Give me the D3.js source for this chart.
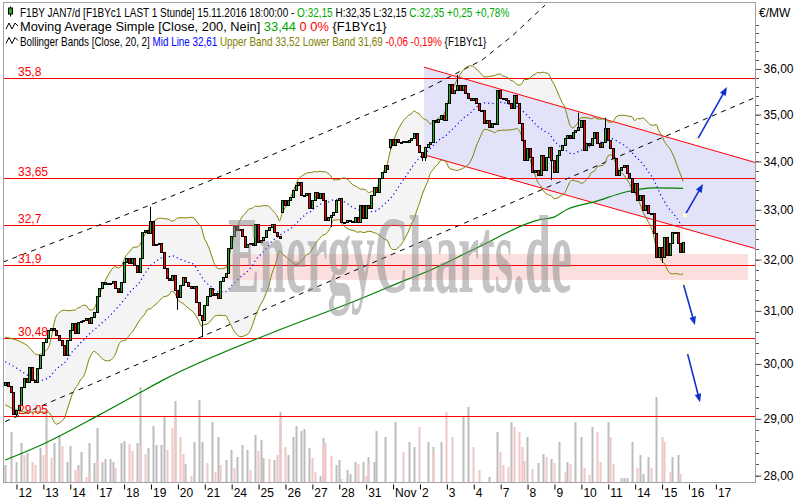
<!DOCTYPE html>
<html><head><meta charset="utf-8">
<script src="https://cdn.jsdelivr.net/npm/d3@7"></script>
<style>body{margin:0;background:#fff}svg{display:block}text{font-family:"Liberation Sans",Arial,sans-serif}</style>
</head><body><svg id="c" width="800" height="500"></svg>
<script>
// ---------- DATA ----------
const closes = [
29.67,29.60,29.49,29.09,29.16,29.25,29.58,29.74,29.67,29.94,
29.71,29.67,29.93,30.17,30.41,30.49,30.64,30.68,30.64,30.54,
30.45,30.35,30.17,30.45,30.64,30.77,30.58,30.79,30.81,30.83,
30.87,30.77,30.88,30.98,31.29,31.44,31.56,31.52,31.54,31.54,
31.58,31.44,31.37,31.56,31.95,32.03,31.93,32.03,31.89,31.76,
32.03,32.55,32.59,32.53,32.77,32.29,32.31,32.33,32.15,31.83,
31.64,31.60,31.70,31.40,31.27,31.50,31.66,31.56,31.48,31.44,
31.48,31.17,30.92,30.83,31.11,31.29,31.44,31.31,31.35,31.25,
31.58,31.66,31.74,32.23,32.47,32.67,32.59,32.61,32.47,32.25,
32.31,32.33,32.29,32.71,32.35,32.39,32.45,32.59,32.65,32.71,
32.55,32.47,32.43,33.20,33.10,33.20,33.26,33.41,33.51,33.57,
33.30,33.30,33.34,33.04,33.20,33.37,33.24,33.34,33.20,32.79,
32.85,32.89,32.95,33.20,33.24,32.75,32.75,32.79,32.77,32.75,
32.85,32.75,33.10,32.83,33.10,33.04,33.30,33.47,33.37,33.65,
33.78,33.92,33.84,34.47,34.35,34.47,34.41,34.41,34.43,34.41,
34.45,34.50,34.60,34.35,34.20,34.09,34.31,34.37,34.41,34.88,
34.84,34.91,34.99,34.88,35.25,35.67,35.47,35.54,35.65,35.54,
35.65,35.47,35.36,35.32,35.36,35.25,35.10,35.10,34.82,34.88,
34.73,34.82,34.80,35.54,35.36,35.36,35.32,35.25,35.14,35.43,
35.25,34.82,34.45,34.03,34.28,34.09,33.78,33.82,33.72,34.13,
33.82,34.09,34.31,34.03,33.78,34.13,34.24,34.35,34.50,34.56,
34.50,34.62,34.67,34.73,34.88,34.24,34.39,34.35,34.50,34.62,
34.39,34.31,34.41,34.71,34.45,34.28,34.07,33.72,33.82,33.88,
33.92,33.76,33.65,33.37,33.55,33.20,33.30,33.00,33.10,32.93,
32.93,32.53,32.05,32.25,32.05,32.45,32.09,32.33,32.55,32.55,
32.33,32.15,32.35];
const firstOpen = 29.62;
const gapOpens = [[103,32.95],[143,34.31]];
const wicks = [[4,null,29.04],[54,33.06,null],[64,null,31.02],[73,null,30.50],[121,null,32.65],[143,null,34.26],
  [155,null,34.01],[156,null,34.01],[168,35.87,null],[203,null,33.61],[213,35.04,null],[223,34.93,null],[244,null,31.93]];

const volGray = [[0,17],[2,50],[4,20],[6,39],[8,29],[13,34],[15,72],[18,39],[20,47],[23,20],[24,36],[27,17],[28,30],[31,39],[33,19],[34,54],[36,20],[37,23],[39,23],[40,20],[43,39],[44,41],[49,39],[50,95],[53,34],[55,56],[56,37],[58,37],[59,65],[63,81],[67,18],[70,40],[72,82],[73,40],[77,60],[79,45],[82,22],[84,32],[86,25],[88,37],[90,32],[93,47],[95,42],[96,24],[100,22],[102,70],[105,27],[107,45],[108,56],[110,51],[111,53],[113,34],[117,6],[118,44],[123,17],[124,22],[127,12],[128,8],[130,20],[133,20],[135,25],[137,20],[138,51],
  [141,45],[145,60],[150,40],[152,35],[157,40],[159,35],[162,40],[170,65],[172,75],[180,5],[183,50],[188,60],[194,45],[198,19],[200,28],[203,23],[206,40],[209,20],[212,60],[214,45],[218,55],[224,60],[229,4],[230,4],[231,4],[233,40],[236,27],[237,8],[239,25],[242,85],[248,25],[250,27]];
const volPink = [[2,14],[7,27],[10,20],[11,17],[14,27],[15,35],[17,24],[21,36],[26,12],[27,12],[30,5],[31,8],[34,22],[41,14],[46,38],[47,31],[50,37],[52,28],[60,32],[62,54],[63,67],[65,45],[66,28],[69,6],[75,19],[78,10],[80,17],[85,14],[91,12],[94,31],[98,23],[101,27],[102,64],[104,35],[114,24],[115,10],[118,39],[119,39],[121,26],[125,3],[131,18],[134,6],[135,17],
  [148,30],[154,55],[159,30],[164,70],[166,45],[174,35],[176,12],[184,30],[185,17],[187,15],[189,55],[191,50],[192,35],[193,21],[196,13],[201,25],[204,19],[208,10],[210,18],[215,14],[217,7],[220,50],[221,20],[225,45],[226,18],[235,14],[240,14],[244,45],[245,40],[247,10],[251,8]];

const sma200 = [[0,28.27],[15,28.57],[35,29.07],[50,29.47],[59,29.71],[102,30.64],[131,31.21],[149,31.60],[158,31.79],[176,32.25],[198,32.79],[204,32.85],[209,33.01],[219,33.16],[231,33.37],[241,33.45],[252,33.44]];
const bbHeadUpper = [[0,30.50],[4,30.45],[8,30.35],[12,30.17],[16,30.30]];
const bbHeadMid   = [[0,30.04],[4,29.93],[8,29.80],[12,29.69],[16,29.74]];
const bbHeadLower = [[0,29.25],[4,29.16],[8,29.12],[12,29.12],[16,29.12]];

const dayLabels = ["12","13","14","17","18","19","20","21","24","25","26","27","28","31","Nov","2","3","4","7","8","9","10","11","14","15","16","17"];
const levels = [35.8,33.65,32.7,31.9,30.48,29.05];
const levelLabels = ["35,8","33,65","32,7","31,9","30,48","29,05"];
const priceTicks = [28,29,30,31,32,33,34,35,36];

const dashLower = [[0,28.95],[278.7,35.37]];
const dashUpper = [[-0.8,31.95],[42.7,32.85],[88.4,33.88],[154.2,35.49],[177.3,36.20],[188.8,36.76],[200.7,37.45]];
const chanTop = [[155.7,36.04],[278.7,33.98]];
const chanBot = [[155.7,34.14],[278.7,32.22]];
const pinkZone = [[82.5,32.11],[276.1,31.60]];
const arrows = [[257.2,34.45,268.3,35.60],[252.7,32.89,259.4,33.53],[252.0,31.54,256.4,30.73],[253.5,30.22,258.3,29.30]];

const header = [
  [["F1BY JAN7/d [F1BYc1 LAST 1 Stunde] 15.11.2016 18:00:00 - ","#000"],["O:32,15","#00a800"],[" H:32,35 L:32,15 ","#000"],["C:32,35 +0,25 +0,78%","#00a800"]],
  [["Moving Average Simple [Close, 200, Nein] ","#000"],["33,44","#00a800"],[" 0 0%","#ff0000"],[" {F1BYc1}","#000"]],
  [["Bollinger Bands [Close, 20, 2] ","#000"],["Mid Line 32,61","#0000ff"],[" Upper Band 33,52 Lower Band 31,69","#808000"],[" -0,06 -0,19%","#ff0000"],[" {F1BYc1}","#000"]]
];
const headerWidths = [490, 367, 467];

// ---------- CHART ----------
const svg = d3.select("#c");
const P = {l:3, t:2, r:755, b:482};
const x = d3.scaleLinear().domain([0,252]).range([5.2,683.1]);
const y = d3.scaleLog().domain([29.05,35.8]).range([416,78]);
const yv = d3.scaleLinear().domain([0,100]).range([482,382]);

svg.append("defs").append("clipPath").attr("id","pc").append("rect")
  .attr("x",P.l).attr("y",P.t).attr("width",P.r-P.l).attr("height",P.b-P.t);
const g = svg.append("g").attr("clip-path","url(#pc)");

// bollinger
const bb = [];
for (let j=19;j<closes.length;j++){
  const w = closes.slice(j-19,j+1), m = d3.mean(w), sd = Math.sqrt(d3.mean(w,v=>(v-m)*(v-m)));
  bb.push({j, m, u:m+2*sd, l:m-2*sd});
}
const head = bbHeadUpper.map((d,i)=>({j:d[0], u:d[1], m:bbHeadMid[i][1], l:bbHeadLower[i][1]}));
const band = head.concat(bb);

g.append("path").datum(band)
  .attr("d", d3.area().x(d=>x(d.j)).y0(d=>y(d.l)).y1(d=>y(d.u)).curve(d3.curveMonotoneX))
  .attr("fill","#f4f4f4");

// channel fill
const poly = [chanTop[0],chanTop[1],chanBot[1],chanBot[0]].map(d=>[x(d[0]),y(d[1])]);
g.append("polygon").attr("points",poly.map(p=>p.join(",")).join(" ")).attr("fill","#e2e2f8");

// pink zone
g.append("rect").attr("x",x(pinkZone[0][0])).attr("y",y(pinkZone[0][1]))
  .attr("width",x(pinkZone[1][0])-x(pinkZone[0][0])).attr("height",y(pinkZone[1][1])-y(pinkZone[0][1]))
  .attr("fill","#fbdede");

// watermark (scaled with a transform so its box is its drawn size)
const wmG = svg.append("g");
const wm = wmG.append("text").attr("x",0).attr("y",0)
  .style("font-family","'Liberation Serif',serif").style("font-weight","bold").style("font-size","80px")
  .attr("fill","#8a8a8a").attr("opacity",0.5).text("EnergyCharts.de");
const wmW = wm.node().getComputedTextLength();
wmG.attr("transform",`translate(228,292) scale(${344/wmW},1.38)`);

// volume
g.selectAll(".vg").data(volGray).join("rect").attr("x",d=>Math.round(x(d[0]))-0.5).attr("width",2)
  .attr("y",d=>yv(d[1])).attr("height",d=>yv(0)-yv(d[1])).attr("fill","#bdbdbd");
g.selectAll(".vp").data(volPink).join("rect").attr("x",d=>Math.round(x(d[0]))-0.5).attr("width",2)
  .attr("y",d=>yv(d[1])).attr("height",d=>yv(0)-yv(d[1])).attr("fill","#f0c6c6");

// horizontal levels
levels.forEach((v,i)=>{
  const yy = Math.round(y(v))+0.5;
  g.append("line").attr("x1",P.l).attr("x2",P.r).attr("y1",yy).attr("y2",yy).attr("stroke","#ff0000");
  svg.append("text").attr("x",18).attr("y",yy-3).attr("fill","#ff0000").style("font-size","12px").text(levelLabels[i]);
});

// dashed trend lines
const lineJP = d3.line().x(d=>x(d[0])).y(d=>y(d[1]));
[dashLower,dashUpper].forEach(L=>{
  g.append("path").attr("d",lineJP(L)).attr("fill","none")
   .attr("stroke","#000").attr("stroke-dasharray","5,5");
});
// channel lines
[chanTop,chanBot].forEach(L=>{
  g.append("path").attr("d",lineJP(L)).attr("fill","none").attr("stroke","#ff0000");
});

// SMA 200
g.append("path").datum(sma200).attr("d",d3.line().x(d=>x(d[0])).y(d=>y(d[1])).curve(d3.curveMonotoneX))
  .attr("fill","none").attr("stroke","#008000").attr("stroke-width",1.2);

// Bollinger lines
g.append("path").datum(band).attr("d",d3.line().x(d=>x(d.j)).y(d=>y(d.u)).curve(d3.curveMonotoneX))
  .attr("fill","none").attr("stroke","#808000");
g.append("path").datum(band).attr("d",d3.line().x(d=>x(d.j)).y(d=>y(d.l)).curve(d3.curveMonotoneX))
  .attr("fill","none").attr("stroke","#808000");
g.append("path").datum(band).attr("d",d3.line().x(d=>x(d.j)).y(d=>y(d.m)).curve(d3.curveMonotoneX))
  .attr("fill","none").attr("stroke","#0000ff").attr("stroke-width",1.2).attr("stroke-dasharray","1.2,3");

// candles
const gapMap = new Map(gapOpens), wickMap = new Map(wicks.map(w=>[w[0],w]));
const candles = closes.map((c,j)=>{
  const o = gapMap.has(j) ? gapMap.get(j) : (j===0 ? firstOpen : closes[j-1]);
  const w = wickMap.get(j);
  const hi = w && w[1]!=null ? w[1] : Math.max(o,c);
  const lo = w && w[2]!=null ? w[2] : Math.min(o,c);
  return {j,o,c,hi,lo};
});
const cg = g.append("g");
candles.forEach(d=>{
  const cx = Math.round(x(d.j));
  if (d.hi>Math.max(d.o,d.c) || d.lo<Math.min(d.o,d.c))
    cg.append("line").attr("x1",cx+0.5).attr("x2",cx+0.5).attr("y1",y(d.hi)).attr("y2",y(d.lo)).attr("stroke","#000");
  const top = Math.round(y(Math.max(d.o,d.c))), bot = Math.round(y(Math.min(d.o,d.c)));
  cg.append("rect").attr("x",cx-0.5).attr("y",top+0.5).attr("width",2).attr("height",Math.max(bot-top,1))
    .attr("fill", d.c>=d.o ? "#22b022" : "#ff0000").attr("stroke","#000");
});

// arrows
arrows.forEach(a=>{
  const x0=x(a[0]),y0=y(a[1]),x1=x(a[2]),y1=y(a[3]);
  const ang=Math.atan2(y1-y0,x1-x0), L=9, wd=0.38;
  g.append("line").attr("x1",x0).attr("y1",y0).attr("x2",x1-Math.cos(ang)*4).attr("y2",y1-Math.sin(ang)*4)
    .attr("stroke","#1030d0").attr("stroke-width",1.6);
  const p1=[x1-L*Math.cos(ang-wd),y1-L*Math.sin(ang-wd)], p2=[x1-L*Math.cos(ang+wd),y1-L*Math.sin(ang+wd)];
  g.append("polygon").attr("points",[[x1,y1],p1,p2].map(p=>p.join(",")).join(" ")).attr("fill","#1030d0");
  g.append("rect").attr("x",x0-2).attr("y",y0-2).attr("width",4).attr("height",4).attr("fill","#ffffd8");
});

// frame
svg.append("rect").attr("x",P.l+0.5).attr("y",P.t+0.5).attr("width",P.r-P.l).attr("height",P.b-P.t)
  .attr("fill","none").attr("stroke","#a0a0a0");

// right axis
const fmt = v=>d3.format(".2f")(v).replace(".",",");
const minor = d3.range(27.8,37.01,0.2).filter(v=>y(v)>P.t && y(v)<P.b);
svg.append("g").selectAll("line").data(minor).join("line")
  .attr("x1",P.r+1).attr("x2",P.r+4).attr("y1",d=>Math.round(y(d))+0.5).attr("y2",d=>Math.round(y(d))+0.5).attr("stroke","#555");
const ra = svg.append("g").attr("transform",`translate(${P.r+0.5},0)`)
  .call(d3.axisRight(y).tickValues(priceTicks).tickFormat(fmt).tickSize(6).tickPadding(2));
ra.select(".domain").remove();
ra.selectAll("line").attr("stroke","#555");
ra.selectAll("text").style("font-size","12px").style("font-family","'Liberation Sans',Arial,sans-serif").attr("fill","#000");
svg.append("text").attr("x",759).attr("y",17).style("font-size","12px").text("€/MW");

// bottom axis
const xd = d3.scaleLinear().domain([0,dayLabels.length-1]).range([x(4),x(4+10*(dayLabels.length-1))]);
const ba = svg.append("g").attr("transform",`translate(0,${P.b+0.5})`)
  .call(d3.axisBottom(xd).tickValues(d3.range(dayLabels.length)).tickFormat(i=>dayLabels[i]).tickSize(5));
ba.select(".domain").remove();
ba.selectAll(".tick line").attr("stroke","#000").attr("transform","translate(0.5,2)");
ba.selectAll(".tick text").attr("text-anchor","start").attr("x",2).attr("y",14).attr("dy",0)
  .style("font-size","12px").style("font-family","'Liberation Sans',Arial,sans-serif").attr("fill","#000");

// header: one text per line with coloured tspans, squeezed horizontally by a transform
header.forEach((line,i)=>{
  const yy = 16.5 + i*14.5;
  const hg = svg.append("g");
  hg.append("rect").attr("fill","#fff").attr("x",4).attr("y",yy-11).attr("width",headerWidths[i]+20).attr("height",14);
  const tg = hg.append("g");
  const t = tg.append("text").attr("x",0).attr("y",0).style("font-size","12px").style("white-space","pre");
  line.forEach(s=>t.append("tspan").attr("fill",s[1]).text(s[0]));
  const nat = t.node().getComputedTextLength();
  tg.attr("transform",`translate(20,${yy}) scale(${headerWidths[i]/nat},1)`);
  if (i===0){
    hg.append("line").attr("x1",10.5).attr("x2",10.5).attr("y1",yy-10).attr("y2",yy).attr("stroke","#000");
    hg.append("rect").attr("x",8.5).attr("y",yy-8.5).attr("width",4).attr("height",6).attr("fill","#22b022").attr("stroke","#000");
  } else {
    hg.append("path").attr("d",`M6,${yy-2} L9,${yy-8} L12,${yy-2} L15,${yy-8} L18,${yy-5}`).attr("fill","none").attr("stroke","#000");
  }
});
</script></body></html>
